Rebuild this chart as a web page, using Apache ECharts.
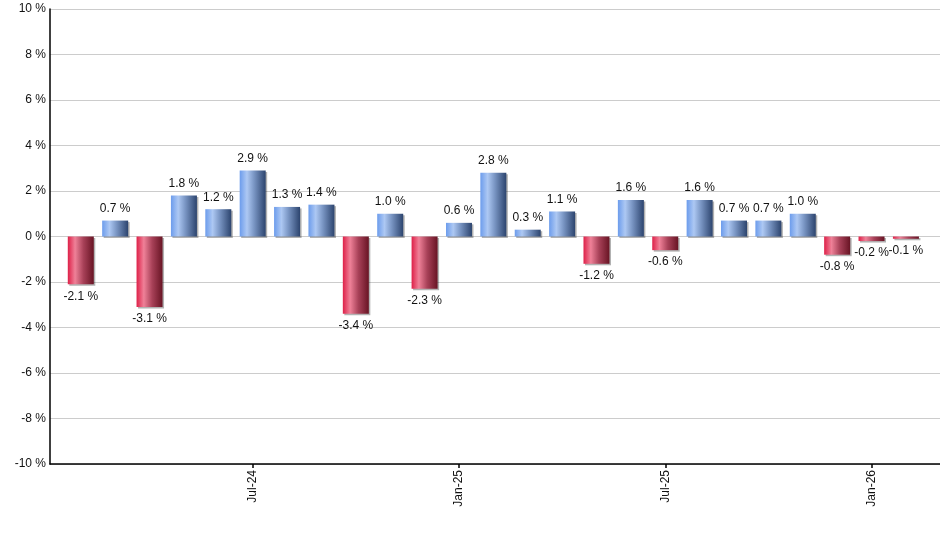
<!DOCTYPE html>
<html lang="en">
  <head>
    <meta charset="UTF-8" />
    <title>Monthly returns</title>
    <script src="https://cdn.jsdelivr.net/npm/echarts@6.0.0/dist/echarts.min.js"></script>
    <style>
      html, body { margin: 0; padding: 0; background: #fff; }
    </style>
  </head>
  <body>
    <div id="main" style="width: 940px; height: 550px"></div>
    <script type="text/javascript">
      // monthly returns, Feb-24 .. Feb-26
      const months = [
        "Feb-24", "Mar-24", "Apr-24", "May-24", "Jun-24", "Jul-24", "Aug-24",
        "Sep-24", "Oct-24", "Nov-24", "Dec-24", "Jan-25", "Feb-25", "Mar-25",
        "Apr-25", "May-25", "Jun-25", "Jul-25", "Aug-25", "Sep-25", "Oct-25",
        "Nov-25", "Dec-25", "Jan-26", "Feb-26"
      ];
      const returns = [
        -2.1, 0.7, -3.1, 1.8, 1.2, 2.9, 1.3, 1.4, -3.4, 1.0, -2.3, 0.6, 2.8,
        0.3, 1.1, -1.2, 1.6, -0.6, 1.6, 0.7, 0.7, 1.0, -0.8, -0.2, -0.1
      ];
      const yTicks = { min: -10, max: 10, step: 2 };

      const blueFill = {
        type: "linear", x: 0, y: 0, x2: 1, y2: 0,
        colorStops: [
          { offset: 0, color: "#6c9cec" },
          { offset: 0.28, color: "#adc8f3" },
          { offset: 0.55, color: "#7a96c4" },
          { offset: 1, color: "#2c446e" }
        ]
      };
      const redFill = {
        type: "linear", x: 0, y: 0, x2: 1, y2: 0,
        colorStops: [
          { offset: 0, color: "#de2048" },
          { offset: 0.28, color: "#ef8198" },
          { offset: 0.6, color: "#a84158" },
          { offset: 1, color: "#681424" }
        ]
      };

      const showMonth = (i) => /^(Jan|Jul)/.test(months[i]);
      const textFont = { fontFamily: "Liberation Sans", fontSize: 12, color: "#111" };

      const barData = returns.map((v) => ({
        value: v,
        itemStyle: { color: v >= 0 ? blueFill : redFill },
        label: { position: v >= 0 ? "top" : "bottom" }
      }));

      const myChart = echarts.init(document.getElementById("main"));
      myChart.setOption({
        animation: false,
        grid: [
          { left: 50, right: 0, top: 9, bottom: 86 },
          { left: 63.6, width: 859.5, top: 9, bottom: 86 }
        ],
        xAxis: [
          {
            type: "value", gridIndex: 0, min: 0, max: 1,
            axisLine: { show: true, onZero: false, lineStyle: { color: "#000", width: 1.5 } },
            axisTick: { show: false }, axisLabel: { show: false }, splitLine: { show: false }
          },
          {
            type: "category", gridIndex: 1, data: months,
            axisLine: { show: false, onZero: false },
            axisTick: {
              show: true, alignWithLabel: true, length: 4,
              interval: (i) => showMonth(i),
              lineStyle: { color: "#000", width: 1.5 }
            },
            axisLabel: Object.assign({
              interval: (i) => showMonth(i),
              rotate: 90, margin: 6
            }, textFont)
          }
        ],
        yAxis: [
          {
            type: "value", gridIndex: 0,
            min: yTicks.min, max: yTicks.max, interval: yTicks.step,
            axisLine: { show: true, onZero: false, lineStyle: { color: "#000", width: 1.5 } },
            axisTick: { show: false },
            axisLabel: Object.assign({ formatter: "{value} %", margin: 4 }, textFont),
            splitLine: { lineStyle: { color: "#cccccc", width: 1 } }
          },
          {
            type: "value", gridIndex: 1,
            min: yTicks.min, max: yTicks.max, interval: yTicks.step,
            show: false
          }
        ],
        series: [
          {
            type: "bar",
            xAxisIndex: 1,
            yAxisIndex: 1,
            barWidth: 26,
            data: barData,
            itemStyle: {
              shadowColor: "rgba(0,0,0,0.3)",
              shadowOffsetX: 1.5,
              shadowOffsetY: 1.5,
              shadowBlur: 0
            },
            label: Object.assign({
              show: true,
              distance: 6,
              formatter: (p) => p.value.toFixed(1) + " %"
            }, textFont)
          }
        ]
      });
    </script>
  </body>
</html>
